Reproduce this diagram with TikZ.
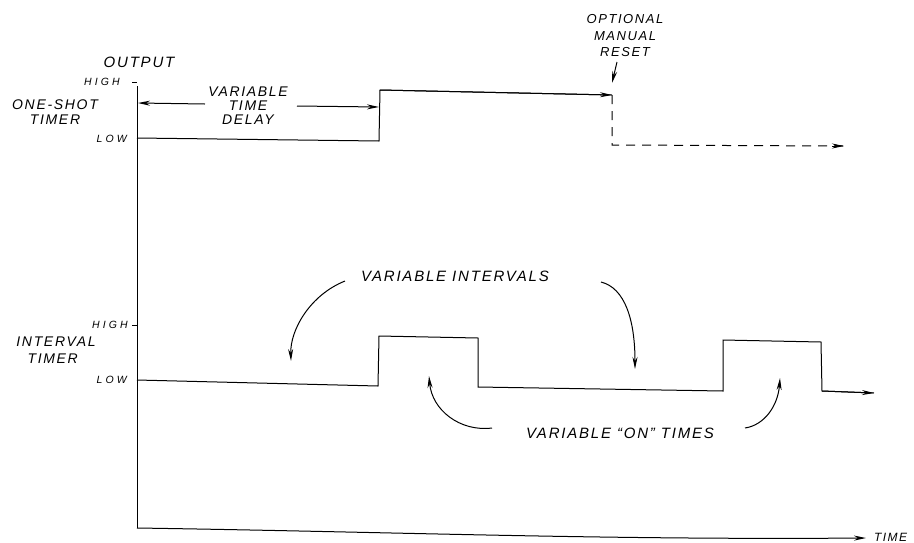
\documentclass[tikz,border=0pt]{standalone}
\usepackage{fontspec}
\setmainfont{Liberation Sans}
\usetikzlibrary{arrows.meta,calc}
\newfontfamily\handfont[LetterSpace=12]{Liberation Sans}
\newfontfamily\handsmall[LetterSpace=30]{Liberation Sans}
\begin{document}
\begin{tikzpicture}[x=1pt,y=-1pt,
  line/.style={line width=1pt,line join=miter},
  tip/.style={-{Stealth[length=12pt,width=5pt]}},
  lbl/.style={font=\handfont\itshape\fontsize{15}{15}\selectfont,inner sep=0pt,align=center},
  small/.style={font=\handsmall\itshape\fontsize{10.5}{11}\selectfont,inner sep=0pt}]
\useasboundingbox (0,0) rectangle (914,542);
% axes
\coordinate (top) at (137,86);
\coordinate (org) at (137,528);
\coordinate (tend) at (866,538);
\draw[line] (top) -- (org);
\draw[line,tip] (org) .. controls (400,532) and (600,540) .. (tend);
\node[lbl,anchor=west,font=\handfont\itshape\fontsize{12}{12}\selectfont] (time) at (874,537) {TIME};
\node[lbl] (output) at (139,62) {OUTPUT};
% one-shot ticks and labels
\coordinate (h1) at (137,82);
\coordinate (h1t) at (132,82);
\draw[line] (h1t) -- (h1);
\node[small,anchor=east] (high1) at (120,82) {HIGH};
\node[small,anchor=east] (low1) at (127,139) {LOW};
\node[lbl,align=center,font=\handfont\itshape\fontsize{14}{15}\selectfont] (oneshot) at (55,112) {ONE-SHOT\\TIMER};
% one-shot waveform
\coordinate (a0) at (137,138);
\coordinate (a1) at (379,141);
\coordinate (a2) at (380,90);
\coordinate (a3) at (612,95);
\coordinate (a4) at (612,145);
\coordinate (a5) at (844,146);
\coordinate (a5b) at (832,146);
\draw[line] (a0) -- (a1) -- (a2) -- (a3);
\draw[line,tip] (a2) -- (a3);
\draw[line,dashed,dash pattern=on 9pt off 7pt] (a3) -- (a4) -- (a5);
\draw[line,tip] (a5b) -- (a5);
% variable time delay
\node[lbl,font=\handfont\itshape\fontsize{14}{14}\selectfont] (vtd) at (248,106) {VARIABLE\\TIME\\DELAY};
\coordinate (d0) at (138,103);
\coordinate (d1) at (205,104);
\coordinate (d2) at (297,106);
\coordinate (d3) at (379,107);
\draw[line,tip] (d1) -- (d0);
\draw[line,tip] (d2) -- (d3);
% optional manual reset
\node[lbl,font=\handfont\itshape\fontsize{13}{16.5}\selectfont] (omr) at (625,36) {OPTIONAL\\MANUAL\\RESET};
\coordinate (r0) at (617,62);
\coordinate (r1) at (612,83);
\draw[line,tip] (r0) -- (r1);
% interval timer
\coordinate (h2) at (137,325);
\coordinate (h2t) at (132,325);
\draw[line] (h2t) -- (h2);
\node[small,anchor=east] (high2) at (128,325) {HIGH};
\node[small,anchor=east] (low2) at (127,380) {LOW};
\node[lbl,align=left,font=\handfont\itshape\fontsize{14}{17}\selectfont] (itimer) at (56,350) {INTERVAL\\\ \ TIMER};
\coordinate (b0) at (137,380);
\coordinate (b1) at (378,386);
\coordinate (b2) at (379,336);
\coordinate (b3) at (478,338);
\coordinate (b4) at (478,387);
\coordinate (b5) at (723,391);
\coordinate (b6) at (723,340);
\coordinate (b7) at (821,342);
\coordinate (b8) at (822,391);
\coordinate (b9) at (874,393);
\draw[line] (b0) -- (b1) -- (b2) -- (b3) -- (b4) -- (b5) -- (b6) -- (b7) -- (b8) -- (b9);
\draw[line,tip] (b8) -- (b9);
% variable intervals
\node[lbl] (vi) at (455,276) {VARIABLE INTERVALS};
\coordinate (vi0) at (345,281);
\coordinate (vi1) at (291,361);
\coordinate (vi3) at (601,282);
\coordinate (vi2) at (635,369);
\draw[line,tip] (vi0) .. controls (310,295) and (290,330) .. (vi1);
\draw[line,tip] (vi3) .. controls (625,288) and (635,320) .. (vi2);
% variable on times
\node[lbl] (von) at (620,433) {VARIABLE “ON” TIMES};
\coordinate (on0) at (492,428);
\coordinate (on1) at (429,376);
\coordinate (on3) at (745,428);
\coordinate (on2) at (780,378);
\draw[line,tip] (on0) .. controls (460,432) and (432,410) .. (on1);
\draw[line,tip] (on3) .. controls (765,425) and (778,405) .. (on2);
\end{tikzpicture}
\end{document}
